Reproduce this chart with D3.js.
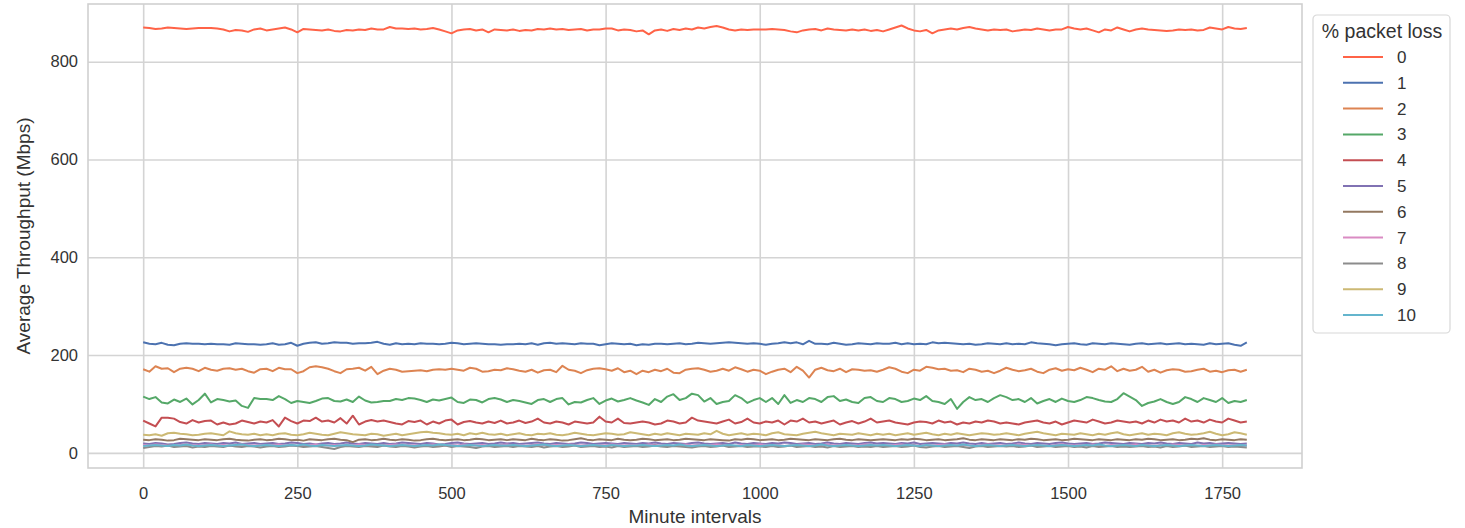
<!DOCTYPE html>
<html>
<head>
<meta charset="utf-8">
<script src="https://cdn.jsdelivr.net/npm/d3@7"></script>
<style>
  body { margin: 0; background: #fff; }
  text { font-family: "Liberation Sans", Arial, sans-serif; fill: #333; }
</style>
</head>
<body>
<svg id="chart" width="1465" height="528"></svg>
<script>
// minute intervals, one reading every 10 minutes
const minutes = d3.range(0, 1800, 10)

const lossLevels = ['0', '1', '2', '3', '4', '5', '6', '7', '8', '9', '10']
const lossColors = ['#ff6347', '#4c72b0', '#dd8452', '#55a868', '#c44e52', '#8172b3',
  '#937860', '#da8bc3', '#8c8c8c', '#ccb974', '#64b5cd']

const xTicks = [0, 250, 500, 750, 1000, 1250, 1500, 1750]
const yTicks = [0, 200, 400, 600, 800]

// average throughput (Mbps) per loss level
const loss0 = [
  870,869,867,868,870,869,868,867,868,869,869,869,868,866,862,865,864,861,866,868,
  864,866,868,870,866,860,867,866,865,864,866,863,862,865,864,866,865,868,866,866,
  871,868,868,867,868,866,867,869,866,862,858,864,866,867,864,866,860,866,865,864,
  866,863,865,864,867,866,868,866,867,865,866,867,864,866,866,868,868,864,866,865,
  862,864,856,864,866,863,867,865,868,866,870,868,871,873,870,866,864,866,865,866,
  866,866,867,866,865,862,860,864,866,867,864,868,866,865,864,866,864,866,863,865,
  862,866,870,874,868,864,862,865,858,864,866,868,866,869,871,868,866,864,866,865,
  866,862,864,866,865,868,866,864,866,866,871,868,866,868,864,860,866,864,870,866,
  862,866,868,866,865,864,863,864,866,865,866,864,865,870,868,866,871,868,867,869]
const loss1 = [
  226,223,222,225,221,220,223,224,223,223,222,223,222,222,221,224,223,222,222,221,
  222,224,221,222,225,219,223,225,226,223,224,226,225,225,223,224,224,225,227,223,
  221,224,222,223,222,224,223,223,222,223,225,224,222,223,224,223,222,222,221,222,
  222,223,222,224,221,224,225,223,224,223,222,224,223,223,220,222,224,223,222,223,
  220,222,221,223,223,222,223,224,222,223,225,224,223,224,225,226,225,224,223,224,
  223,221,223,224,226,224,226,222,229,223,223,222,225,223,221,222,224,223,222,224,
  223,223,225,222,224,222,223,222,226,224,225,224,223,222,223,221,222,224,223,222,
  224,222,223,222,226,224,223,222,220,222,223,224,222,221,224,223,222,224,223,222,
  221,223,224,222,223,224,222,223,224,222,223,222,221,224,222,223,224,221,219,226]
const loss2 = [
  171,166,177,172,173,165,172,174,172,167,174,170,168,172,173,170,172,167,164,171,
  172,167,174,171,171,163,167,175,177,175,172,167,163,171,172,174,168,176,161,168,
  172,170,166,167,168,169,167,170,171,170,172,170,168,174,172,166,167,170,169,173,
  171,168,166,170,164,169,170,165,178,170,168,163,169,172,173,171,168,173,165,168,
  161,168,165,170,167,172,164,163,170,172,173,170,166,168,172,168,175,171,166,170,
  168,161,166,170,172,165,176,168,154,170,174,169,167,172,165,171,170,168,169,166,
  170,175,172,166,163,170,168,176,174,171,172,168,169,165,172,170,166,168,163,168,
  174,170,167,169,172,166,163,170,173,168,171,169,174,170,165,172,170,177,167,172,
  168,170,176,166,170,164,169,171,170,166,167,170,172,166,168,165,169,170,166,170]
const loss3 = [
  115,110,114,103,101,109,104,111,99,108,121,103,110,108,105,107,96,92,112,110,
  110,108,116,110,102,106,104,102,106,111,112,106,105,109,104,115,107,103,104,106,
  106,110,108,112,111,108,104,109,107,110,113,104,102,109,108,103,110,112,109,104,
  108,106,103,100,108,110,104,110,112,99,104,103,108,112,100,107,111,105,108,112,
  107,103,98,110,104,115,120,108,112,121,118,105,112,100,104,106,118,112,102,108,
  112,104,112,100,118,102,108,104,112,110,104,114,116,106,109,104,102,112,114,106,
  104,112,110,104,106,111,108,116,106,104,100,110,90,104,114,108,110,104,112,118,
  114,108,110,104,112,101,106,110,104,111,106,104,108,114,112,108,105,104,110,122,
  115,108,96,102,105,110,104,100,104,114,110,104,112,108,104,112,102,106,104,108]
const loss4 = [
  66,60,54,72,72,70,63,60,67,62,65,66,58,62,58,60,66,63,60,64,
  62,67,54,72,65,60,66,65,72,64,66,62,71,60,76,58,64,67,64,66,
  63,60,58,65,63,66,58,64,60,66,68,58,63,65,62,60,64,61,66,60,
  62,66,61,64,70,62,60,64,62,58,64,62,60,62,74,64,62,70,61,60,
  62,64,62,58,60,66,64,60,62,72,66,64,62,60,64,68,60,63,70,62,
  60,64,62,66,58,66,64,70,62,64,60,63,66,58,62,65,60,64,70,62,
  64,66,62,60,58,62,64,63,60,66,62,64,58,62,60,64,62,66,64,60,
  62,60,58,62,64,66,62,60,64,58,62,66,64,62,68,64,60,62,66,64,
  62,64,60,66,62,68,64,66,62,70,64,66,62,68,64,62,70,66,62,64]
const loss5 = [
  19,18,20,19,17,18,20,21,19,18,20,19,18,20,19,21,18,19,20,18,
  19,20,18,19,21,20,18,19,17,19,20,18,19,21,19,18,20,19,18,20,
  18,19,21,20,19,18,20,19,17,18,20,21,19,18,19,20,18,19,21,19,
  20,18,19,20,21,19,18,20,19,18,19,21,20,18,19,20,19,18,20,19,
  18,20,19,21,19,18,20,19,18,20,21,19,18,19,20,18,21,19,18,20,
  19,18,20,19,21,20,18,19,20,18,19,21,19,18,20,19,18,20,21,19,
  20,19,18,20,19,21,18,19,20,19,18,20,19,21,19,18,20,18,19,20,
  18,19,21,19,18,20,19,18,20,21,19,18,19,20,18,19,21,20,19,18,
  20,19,18,20,19,21,19,18,20,19,18,21,19,20,18,19,20,19,18,19]
const loss6 = [
  27,26,28,27,25,26,29,28,27,26,28,27,26,28,29,27,26,25,27,28,
  26,27,29,28,26,27,25,28,27,26,28,29,27,26,22,27,28,26,27,29,
  27,26,28,27,25,26,28,29,27,26,27,28,26,27,29,28,26,27,28,26,
  28,27,26,29,27,26,28,27,25,26,28,30,27,26,28,27,26,29,27,26,
  27,29,28,26,27,28,26,27,29,28,27,26,28,27,26,25,28,27,29,28,
  26,27,28,26,27,29,28,27,26,28,27,26,28,29,27,26,28,27,26,27,
  28,27,26,28,27,29,28,26,27,28,26,27,28,30,27,26,28,27,26,28,
  27,26,28,27,29,28,26,27,28,26,27,29,28,27,26,28,27,26,28,27,
  26,28,27,29,28,26,27,28,26,27,29,28,30,27,26,28,27,26,28,27]
const loss7 = [
  16,15,17,16,15,14,16,17,16,15,16,17,15,16,14,16,17,16,15,16,
  15,16,17,15,16,14,15,16,17,16,15,16,14,16,15,17,16,15,16,15,
  16,17,15,16,15,14,16,17,16,15,16,15,17,16,15,16,14,15,16,17,
  15,16,14,16,17,16,15,16,15,17,16,15,16,14,16,15,17,16,15,16,
  16,15,17,16,15,16,14,16,17,15,16,15,16,17,16,15,14,16,15,16,
  17,16,15,16,14,15,16,17,16,15,16,17,15,16,14,16,15,17,16,15,
  16,15,16,17,15,16,14,16,15,16,17,16,15,16,15,14,16,17,16,15,
  15,16,17,16,15,16,15,14,16,17,16,15,16,15,17,16,14,16,15,16,
  16,17,15,16,14,16,15,17,16,15,16,14,16,15,17,16,15,16,14,15]
const loss8 = [
  10,12,14,13,15,12,13,14,11,13,12,14,13,12,15,13,12,14,13,11,
  13,14,12,13,15,14,12,13,14,12,10,8,12,14,13,12,14,13,12,15,
  13,12,14,13,11,13,14,12,13,15,12,14,13,12,10,13,14,12,13,14,
  12,14,13,12,14,11,13,14,12,13,15,12,13,14,12,13,11,14,12,13,
  14,12,13,15,13,12,14,13,12,11,13,14,12,13,15,12,13,14,12,13,
  13,12,14,12,13,15,12,13,14,12,13,11,14,12,13,14,12,13,12,14,
  12,13,14,12,13,15,12,11,13,14,12,13,14,12,10,13,14,12,13,14,
  13,14,12,13,15,12,13,14,12,13,14,12,13,11,14,12,13,14,12,13,
  12,13,14,12,13,11,14,12,13,15,12,13,14,12,13,14,12,13,12,11]
const loss9 = [
  37,36,38,35,40,41,39,38,36,37,39,40,38,36,44,40,38,37,39,36,
  38,36,39,40,37,36,38,41,39,37,36,39,42,40,38,37,36,39,38,35,
  37,39,36,38,40,42,43,41,40,38,37,39,36,40,38,41,38,37,39,36,
  38,40,37,36,39,38,40,37,36,38,41,39,37,36,38,40,39,37,38,42,
  40,38,36,39,37,40,38,36,39,38,37,40,38,45,39,36,38,40,37,39,
  38,36,40,42,38,37,36,39,41,43,40,38,36,39,38,37,40,38,36,39,
  37,39,36,38,40,37,39,41,38,36,39,37,40,38,36,38,40,39,37,38,
  40,38,36,39,41,43,40,38,36,39,38,37,40,38,36,39,37,40,42,38,
  36,38,40,37,39,38,36,40,42,39,37,38,40,43,39,36,38,42,40,37]
const loss10 = [
  14,15,16,15,14,16,15,17,15,14,15,16,15,14,15,16,17,15,14,15,
  16,15,14,15,16,15,17,15,14,16,15,14,15,16,15,14,15,17,16,15,
  14,15,16,15,14,15,16,15,17,16,15,14,15,16,15,14,15,16,15,15,
  16,15,14,15,16,17,15,14,15,16,15,14,15,16,15,14,16,15,14,15,
  15,16,15,14,15,16,15,17,15,14,15,16,15,14,15,16,15,14,16,15,
  14,15,16,15,14,15,16,15,14,15,17,15,14,15,16,15,14,15,16,15,
  16,15,14,15,16,15,14,16,15,14,15,16,15,17,15,14,15,16,15,14,
  15,16,15,14,15,16,15,14,15,16,15,14,15,16,15,17,15,14,15,16,
  15,14,16,15,14,15,16,15,14,15,16,15,14,15,16,15,14,15,16,15]

const lossSeries = [loss0, loss1, loss2, loss3, loss4, loss5, loss6, loss7, loss8, loss9, loss10]

// plot area
const margin = { top: 4, right: 163, bottom: 60, left: 88 },
  width = 1465 - margin.left - margin.right,
  height = 528 - margin.top - margin.bottom

const svg = d3.select('#chart')
const g = svg.append('g').attr('transform', `translate(${margin.left}, ${margin.top})`)

const xScale = d3.scaleLinear().domain([-89.5, 1879.5]).range([0, width])
const yScale = d3.scaleLinear().domain([-31, 918]).range([height, 0])

// grid lines
g.append('g')
  .attr('class', 'x-grid')
  .attr('transform', `translate(0, ${height})`)
  .call(d3.axisBottom(xScale).tickValues(xTicks).tickSize(-height).tickFormat(''))
  .call((a) => a.select('.domain').remove())
  .selectAll('line')
  .attr('stroke', '#d4d4d4')
  .attr('stroke-width', 1.6)

g.append('g')
  .attr('class', 'y-grid')
  .call(d3.axisLeft(yScale).tickValues(yTicks).tickSize(-width).tickFormat(''))
  .call((a) => a.select('.domain').remove())
  .selectAll('line')
  .attr('stroke', '#d4d4d4')
  .attr('stroke-width', 1.6)

// frame
g.append('rect')
  .attr('width', width)
  .attr('height', height)
  .attr('fill', 'none')
  .attr('stroke', '#d0d0d0')
  .attr('stroke-width', 1.6)

// tick labels
g.append('g')
  .attr('transform', `translate(0, ${height})`)
  .call(d3.axisBottom(xScale).tickValues(xTicks).tickSize(0).tickPadding(19).tickFormat(d3.format('d')))
  .call((a) => a.select('.domain').remove())
  .selectAll('text')
  .attr('font-size', '16.5px')
  .attr('fill', '#333')

g.append('g')
  .call(d3.axisLeft(yScale).tickValues(yTicks).tickSize(0).tickPadding(10))
  .call((a) => a.select('.domain').remove())
  .selectAll('text')
  .attr('font-size', '16.5px')
  .attr('fill', '#333')

// axis titles
svg.append('text')
  .attr('x', margin.left + width / 2)
  .attr('y', 523)
  .attr('text-anchor', 'middle')
  .attr('font-size', '19px')
  .text('Minute intervals')

svg.append('text')
  .attr('transform', `translate(30, ${margin.top + height / 2}) rotate(-90)`)
  .attr('text-anchor', 'middle')
  .attr('font-size', '19px')
  .text('Average Throughput (Mbps)')

// lines
const lineGen = (values) =>
  d3.line()
    .x((d, i) => xScale(minutes[i]))
    .y((d) => yScale(d))(values)

lossSeries.forEach((values, k) => {
  g.append('path')
    .attr('d', lineGen(values))
    .attr('fill', 'none')
    .attr('stroke', lossColors[k])
    .attr('stroke-width', 2)
    .attr('stroke-linejoin', 'round')
})

// legend
const legend = svg.append('g').attr('transform', 'translate(1313, 15)')
legend.append('rect')
  .attr('width', 137)
  .attr('height', 318)
  .attr('rx', 4)
  .attr('fill', '#fff')
  .attr('stroke', '#d8d8d8')
  .attr('stroke-width', 1.2)

legend.append('text')
  .attr('x', 69)
  .attr('y', 23)
  .attr('text-anchor', 'middle')
  .attr('font-size', '19.5px')
  .text('% packet loss')

lossLevels.forEach((lvl, k) => {
  const yy = 42 + k * 25.8
  legend.append('line')
    .attr('x1', 30).attr('x2', 70)
    .attr('y1', yy).attr('y2', yy)
    .attr('stroke', lossColors[k])
    .attr('stroke-width', 2)
  legend.append('text')
    .attr('x', 84)
    .attr('y', yy)
    .attr('dy', '0.35em')
    .attr('font-size', '17px')
    .text(lvl)
})
</script>
</body>
</html>
